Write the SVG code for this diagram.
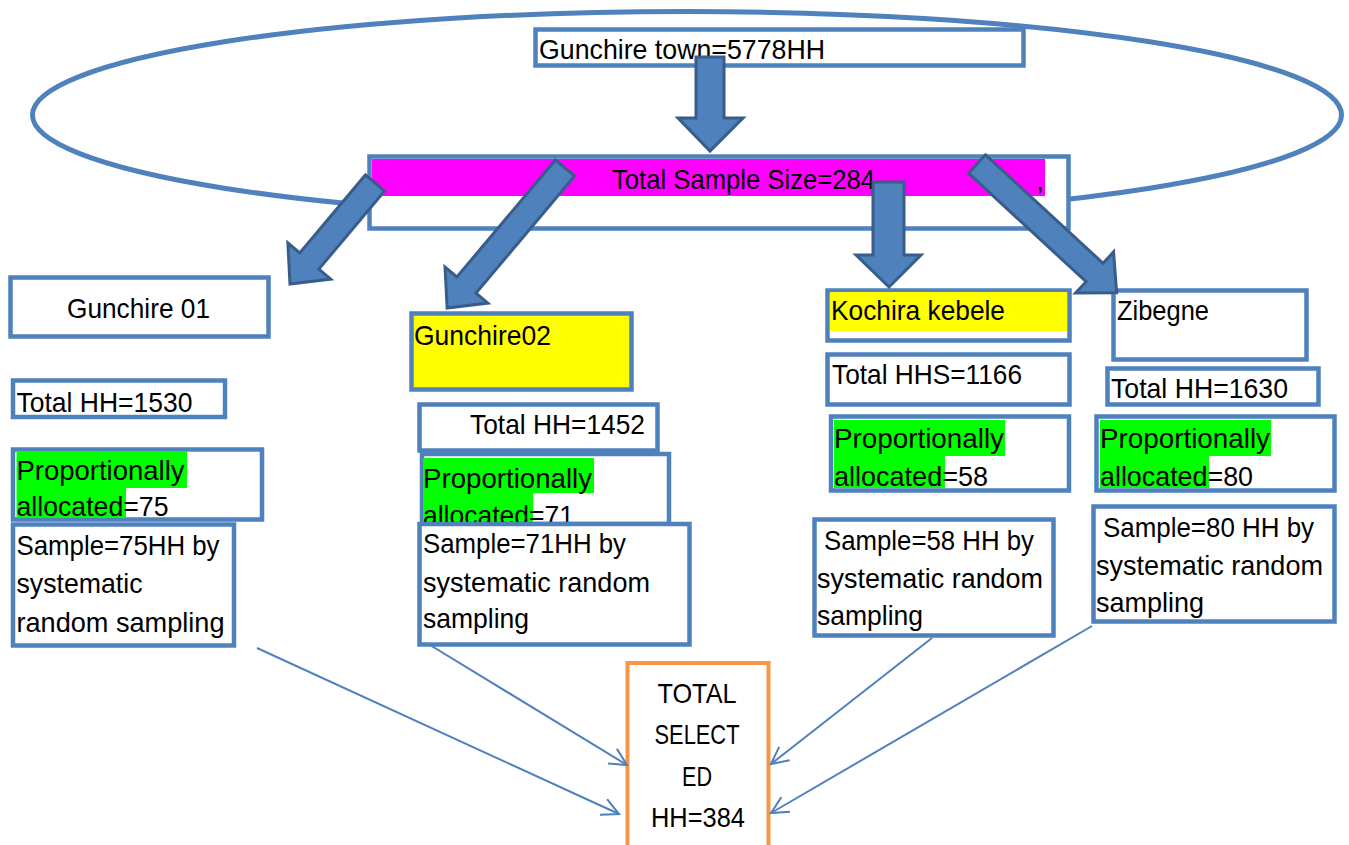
<svg xmlns="http://www.w3.org/2000/svg" width="1349" height="845" viewBox="0 0 1349 845">
<defs>
<style>
.bx{fill:#fff;stroke:#4f81bd;stroke-width:4.5}
.t{font-family:"Liberation Sans",Arial,sans-serif;font-size:28px;fill:#000}
.tc{font-family:"Liberation Sans",Arial,sans-serif;font-size:28px;fill:#000;text-anchor:middle}
.g{fill:#00ff00}
.y{fill:#ffff00}
.blk{fill:#4f81bd;stroke:#385d8a;stroke-width:3;stroke-linejoin:miter}
.ln{fill:none;stroke:#4f81bd;stroke-width:2}
</style>
<marker id="oa" viewBox="0 0 20 19" refX="18" refY="9.5" markerWidth="20" markerHeight="19" markerUnits="userSpaceOnUse" orient="auto">
<path d="M1,1 L18,9.5 L1,18" fill="none" stroke="#4f81bd" stroke-width="2"/>
</marker>
</defs>
<rect width="1349" height="845" fill="#fff"/>
<ellipse cx="687" cy="115" rx="654.5" ry="103.5" fill="none" stroke="#4f81bd" stroke-width="5"/>

<g id="town">
<rect class="bx" x="535.5" y="29.5" width="488" height="36"/>
<text class="t" x="539" y="59" textLength="286" lengthAdjust="spacingAndGlyphs">Gunchire town=5778HH</text>
</g>

<g id="total-sample">
<rect class="bx" x="369.5" y="156.5" width="699" height="72" stroke-width="5"/>
<rect x="372" y="159" width="673" height="37" fill="#ff00ff"/>
<text class="t" x="612" y="189" textLength="263" lengthAdjust="spacingAndGlyphs">Total Sample Size=284</text>
<text class="t" x="1036" y="190">,</text>
</g>

<g id="gunchire01">
<rect class="bx" x="10.5" y="277.5" width="258" height="59"/>
<text class="t" x="67" y="318" textLength="143" lengthAdjust="spacingAndGlyphs">Gunchire 01</text>
</g>
<g id="g01-total">
<rect class="bx" x="13" y="380.5" width="212" height="36.5"/>
<text class="t" x="16.5" y="412" textLength="176" lengthAdjust="spacingAndGlyphs">Total HH=1530</text>
</g>
<g id="g01-prop">
<rect class="bx" x="13" y="449.5" width="249" height="70"/>
<rect class="g" x="16.5" y="452" width="170.5" height="36"/>
<rect class="g" x="16.5" y="488" width="109.5" height="30"/>
<text class="t" x="16.5" y="480" textLength="168" lengthAdjust="spacingAndGlyphs">Proportionally</text>
<text class="t" x="16.5" y="516" textLength="152" lengthAdjust="spacingAndGlyphs">allocated=75</text>
</g>
<g id="g01-sample">
<rect class="bx" x="13" y="524.5" width="221" height="121"/>
<text class="t" x="16.5" y="555" textLength="203" lengthAdjust="spacingAndGlyphs">Sample=75HH by</text>
<text class="t" x="16.5" y="593" textLength="126" lengthAdjust="spacingAndGlyphs">systematic</text>
<text class="t" x="16.5" y="632" textLength="208" lengthAdjust="spacingAndGlyphs">random sampling</text>
</g>

<g id="gunchire02">
<rect class="bx" x="411.5" y="313.5" width="220" height="76" style="fill:#ffff00"/>
<text class="t" x="414" y="345" textLength="137" lengthAdjust="spacingAndGlyphs">Gunchire02</text>
</g>
<g id="g02-total">
<rect class="bx" x="419.5" y="404.5" width="238" height="46"/>
<text class="t" x="470" y="434" textLength="175" lengthAdjust="spacingAndGlyphs">Total HH=1452</text>
</g>
<g id="g02-prop">
<rect class="bx" x="422" y="454" width="247" height="70"/>
<rect class="g" x="423" y="458" width="171" height="35"/>
<rect class="g" x="423" y="493" width="110" height="30"/>
<text class="t" x="423" y="488" textLength="169" lengthAdjust="spacingAndGlyphs">Proportionally</text>
<text class="t" x="423" y="525" textLength="151" lengthAdjust="spacingAndGlyphs">allocated=71</text>
</g>
<g id="g02-sample">
<rect class="bx" x="419.5" y="524" width="270" height="120.5"/>
<text class="t" x="423" y="553" textLength="203" lengthAdjust="spacingAndGlyphs">Sample=71HH by</text>
<text class="t" x="423" y="592" textLength="227" lengthAdjust="spacingAndGlyphs">systematic random</text>
<text class="t" x="423" y="628" textLength="106" lengthAdjust="spacingAndGlyphs">sampling</text>
</g>

<g id="kochira">
<rect class="bx" x="827.5" y="290.5" width="242" height="50"/>
<rect class="y" x="830" y="292" width="237" height="39"/>
<text class="t" x="831" y="320" textLength="174" lengthAdjust="spacingAndGlyphs">Kochira kebele</text>
</g>
<g id="k-total">
<rect class="bx" x="827.5" y="354.5" width="242" height="50"/>
<text class="t" x="832" y="384" textLength="190" lengthAdjust="spacingAndGlyphs">Total HHS=1166</text>
</g>
<g id="k-prop">
<rect class="bx" x="831" y="416.5" width="238" height="74"/>
<rect class="g" x="834" y="420" width="171" height="36"/>
<rect class="g" x="834" y="456" width="111" height="32"/>
<text class="t" x="834" y="448" textLength="170" lengthAdjust="spacingAndGlyphs">Proportionally</text>
<text class="t" x="834" y="486" textLength="154" lengthAdjust="spacingAndGlyphs">allocated=58</text>
</g>
<g id="k-sample">
<rect class="bx" x="814.5" y="519.5" width="239" height="116"/>
<text class="t" x="824" y="550" textLength="210" lengthAdjust="spacingAndGlyphs">Sample=58 HH by</text>
<text class="t" x="817" y="588" textLength="226" lengthAdjust="spacingAndGlyphs">systematic random</text>
<text class="t" x="817" y="625" textLength="106" lengthAdjust="spacingAndGlyphs">sampling</text>
</g>

<g id="zibegne">
<rect class="bx" x="1113.5" y="290.5" width="193" height="69"/>
<text class="t" x="1117" y="320" textLength="92" lengthAdjust="spacingAndGlyphs">Zibegne</text>
</g>
<g id="z-total">
<rect class="bx" x="1107.5" y="368.5" width="211" height="36"/>
<text class="t" x="1111" y="398" textLength="177" lengthAdjust="spacingAndGlyphs">Total HH=1630</text>
</g>
<g id="z-prop">
<rect class="bx" x="1096.5" y="416.5" width="238" height="74"/>
<rect class="g" x="1100" y="420" width="171" height="36"/>
<rect class="g" x="1100" y="456" width="109" height="32"/>
<text class="t" x="1100" y="448" textLength="170" lengthAdjust="spacingAndGlyphs">Proportionally</text>
<text class="t" x="1100" y="486" textLength="153" lengthAdjust="spacingAndGlyphs">allocated=80</text>
</g>
<g id="z-sample">
<rect class="bx" x="1093.5" y="506.5" width="241" height="115"/>
<text class="t" x="1103" y="537" textLength="211" lengthAdjust="spacingAndGlyphs">Sample=80 HH by</text>
<text class="t" x="1096" y="575" textLength="227" lengthAdjust="spacingAndGlyphs">systematic random</text>
<text class="t" x="1096" y="612" textLength="108" lengthAdjust="spacingAndGlyphs">sampling</text>
</g>

<g id="total-selected">
<rect x="627.5" y="663" width="141" height="200" fill="#fff" stroke="#f79646" stroke-width="4"/>
<text class="tc" x="697" y="703" textLength="79" lengthAdjust="spacingAndGlyphs">TOTAL</text>
<text class="tc" x="697" y="744" textLength="85" lengthAdjust="spacingAndGlyphs">SELECT</text>
<text class="tc" x="697" y="786" textLength="30" lengthAdjust="spacingAndGlyphs">ED</text>
<text class="tc" x="698" y="827" textLength="94" lengthAdjust="spacingAndGlyphs">HH=384</text>
</g>

<g id="connectors">
<polygon class="blk" points="696,57 724,57 724,118 743,118 710,151 678,118 696,118"/>
<polygon class="blk" points="873,182 904,182 904,255 921,255 889,287 856,255 873,255"/>
<polygon class="blk" transform="translate(375,183) rotate(130.1)" points="0,-12.5 102,-12.5 102,-28 132,0 102,28 102,12.5 0,12.5"/>
<polygon class="blk" transform="translate(565,168) rotate(130.1)" points="0,-12.5 153,-12.5 153,-28 183,0 153,28 153,12.5 0,12.5"/>
<polygon class="blk" transform="translate(977,164) rotate(42.7)" points="0,-12.5 160,-12.5 160,-28 190,0 160,28 160,12.5 0,12.5"/>
<line class="ln" x1="257" y1="648" x2="619" y2="814" marker-end="url(#oa)"/>
<line class="ln" x1="430" y1="645" x2="627" y2="765" marker-end="url(#oa)"/>
<line class="ln" x1="932" y1="638" x2="771" y2="764" marker-end="url(#oa)"/>
<line class="ln" x1="1092" y1="626" x2="771" y2="813" marker-end="url(#oa)"/>
</g>
</svg>
